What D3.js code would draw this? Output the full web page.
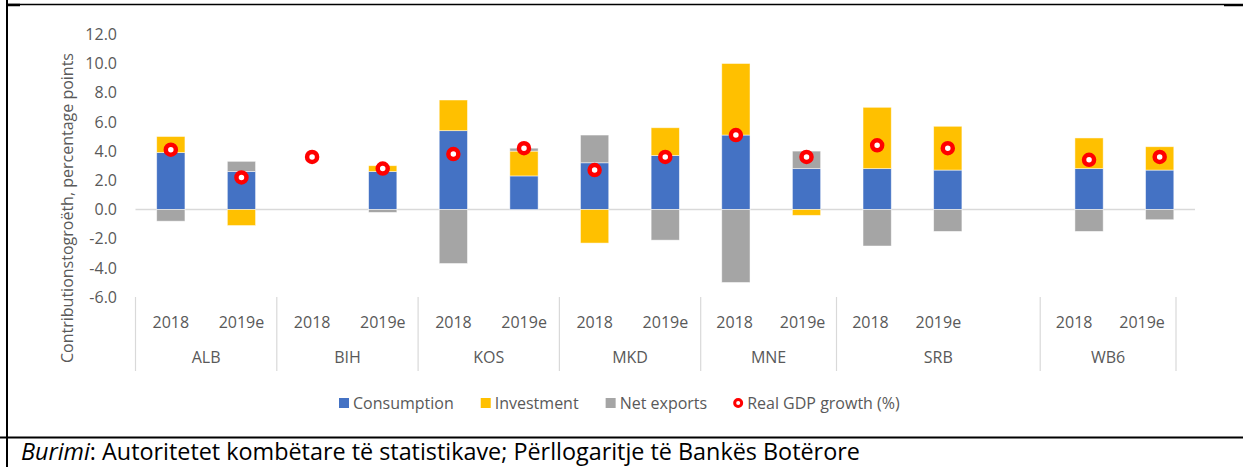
<!DOCTYPE html>
<html>
<head>
<meta charset="utf-8">
<script src="https://cdn.jsdelivr.net/npm/d3@7"></script>
<style>
  body { margin: 0; background: #fff; }
  svg { display: block; font-family: "Open Sans", sans-serif; }
</style>
</head>
<body>
<svg width="1243" height="467"></svg>
<script>
const svg = d3.select("svg");
const width = +svg.attr("width");
const height = +svg.attr("height");

// data, one entry per category slot (SRB has an empty third slot)
const countries = ["ALB", "ALB", "BIH", "BIH", "KOS", "KOS", "MKD", "MKD", "MNE", "MNE", "SRB", "SRB", "SRB", "WB6", "WB6"];
const years = ["2018", "2019e", "2018", "2019e", "2018", "2019e", "2018", "2019e", "2018", "2019e", "2018", "2019e", "", "2018", "2019e"];
const consumption = [3.9, 2.6, null, 2.6, 5.4, 2.3, 3.2, 3.7, 5.1, 2.8, 2.8, 2.7, null, 2.8, 2.7];
const investment = [1.1, -1.1, null, 0.4, 2.1, 1.7, -2.3, 1.9, 4.9, -0.4, 4.2, 3.0, null, 2.1, 1.6];
const netExports = [-0.8, 0.7, null, -0.2, -3.7, 0.2, 1.9, -2.1, -5.0, 1.2, -2.5, -1.5, null, -1.5, -0.7];
const gdpGrowth = [4.1, 2.2, 3.6, 2.8, 3.8, 4.2, 2.7, 3.6, 5.1, 3.6, 4.4, 4.2, null, 3.4, 3.6];

const yTicks = [-6, -4, -2, 0, 2, 4, 6, 8, 10, 12];
const seriesNames = ["Consumption", "Investment", "Net exports"];
const seriesColors = ["#4472C4", "#FFC000", "#A5A5A5"];
const lineName = "Real GDP growth (%)";
const yTitle = "Contributionstogroëth, percentage points";

const grey = "#595959";
const lightGrey = "#D9D9D9";

const rows = countries.map((c, i) => ({
    i: i,
    Consumption: consumption[i] || 0,
    Investment: investment[i] || 0,
    "Net exports": netExports[i] || 0
}));

const x = d3.scaleBand()
    .domain(d3.range(countries.length))
    .range([135.5, 1195])
    .paddingInner(0.6)
    .paddingOuter(0.3);

// category labels in the source are squeezed after MNE
const xLabel = d3.scaleLinear()
    .domain([0, 8, countries.length])
    .range([135.5, 700.7, 1176]);

const y = d3.scaleLinear()
    .domain([-6, 12])
    .range([297.1, 34.3]);

// frame
svg.append("rect").attr("width", width).attr("height", height).attr("fill", "#fff");
svg.append("line").attr("x1", 7).attr("x2", 7).attr("y1", 0).attr("y2", height)
    .attr("stroke", "#000").attr("stroke-width", 2);
svg.append("line").attr("x1", 7).attr("x2", 1224).attr("y1", 4.5).attr("y2", 4.5)
    .attr("stroke", "#000").attr("stroke-width", 1.5);
svg.append("line").attr("x1", 1224).attr("x2", width).attr("y1", 5).attr("y2", 5)
    .attr("stroke", "#000").attr("stroke-width", 2.5);
svg.append("line").attr("x1", 7).attr("x2", 20).attr("y1", 5).attr("y2", 5)
    .attr("stroke", "#000").attr("stroke-width", 2.5);
svg.append("line").attr("x1", 0).attr("x2", width).attr("y1", 437.5).attr("y2", 437.5)
    .attr("stroke", "#000").attr("stroke-width", 2);

// y axis
const yAxis = svg.append("g")
    .attr("transform", "translate(120,0)")
    .call(d3.axisLeft(y).tickValues(yTicks).tickSize(0).tickPadding(3).tickFormat(d => d.toFixed(1)));
yAxis.select(".domain").remove();
yAxis.selectAll("text")
    .attr("fill", grey)
    .style("font-size", "16px")
    .style("font-family", "'Open Sans', sans-serif");

svg.append("text")
    .attr("transform", `translate(67,${(44 + 372) / 2}) rotate(-90)`)
    .attr("text-anchor", "middle")
    .attr("dominant-baseline", "central")
    .attr("fill", grey)
    .style("font-size", "16px")
    .text(yTitle);

// zero line
svg.append("line")
    .attr("x1", x.range()[0]).attr("x2", x.range()[1])
    .attr("y1", y(0)).attr("y2", y(0))
    .attr("stroke", lightGrey).attr("stroke-width", 1.5);

// stacked bars
const stack = d3.stack().keys(seriesNames).offset(d3.stackOffsetDiverging);
const stacked = stack(rows);

svg.append("g")
    .selectAll("g")
    .data(stacked)
    .join("g")
    .attr("fill", (d, i) => seriesColors[i])
    .selectAll("rect")
    .data(d => d.filter(p => p[1] !== p[0]))
    .join("rect")
    .attr("x", d => x(d.data.i))
    .attr("width", x.bandwidth())
    .attr("y", d => y(Math.max(d[0], d[1])))
    .attr("height", d => Math.abs(y(d[0]) - y(d[1])))
    .attr("stroke", "#fff")
    .attr("stroke-opacity", 0.6)
    .attr("stroke-width", 0.8);

// GDP growth markers
svg.append("g")
    .selectAll("circle")
    .data(gdpGrowth.map((v, i) => ({ i: i, v: v })).filter(d => d.v !== null))
    .join("circle")
    .attr("cx", d => x(d.i) + x.bandwidth() / 2)
    .attr("cy", d => y(d.v))
    .attr("r", 5)
    .attr("fill", "#fff")
    .attr("stroke", "#FF0000")
    .attr("stroke-width", 4.5);

// category axis: years, countries, separators
const catAxis = svg.append("g");
catAxis.selectAll(".year")
    .data(years.map((t, i) => ({ t: t, i: i })).filter(d => d.t))
    .join("text")
    .attr("class", "year")
    .attr("x", d => xLabel(d.i + 0.5))
    .attr("y", 322)
    .attr("text-anchor", "middle")
    .attr("dominant-baseline", "central")
    .attr("fill", grey)
    .style("font-size", "16px")
    .text(d => d.t);

const groups = [];
countries.forEach((c, i) => {
    if (!groups.length || groups[groups.length - 1].name !== c) groups.push({ name: c, start: i, end: i + 1 });
    else groups[groups.length - 1].end = i + 1;
});

catAxis.selectAll(".group")
    .data(groups)
    .join("text")
    .attr("class", "group")
    .attr("x", d => (xLabel(d.start) + xLabel(d.end)) / 2)
    .attr("y", 357)
    .attr("text-anchor", "middle")
    .attr("dominant-baseline", "central")
    .attr("fill", grey)
    .style("font-size", "16px")
    .text(d => d.name);

const bounds = [0].concat(groups.map(g => g.end));
catAxis.selectAll(".sep")
    .data(bounds)
    .join("line")
    .attr("x1", d => xLabel(d)).attr("x2", d => xLabel(d))
    .attr("y1", 297).attr("y2", 371)
    .attr("stroke", lightGrey).attr("stroke-width", 1.2);

// legend
const legend = svg.append("g").attr("transform", "translate(339,403)");
let lx = 0;
const legendItems = seriesNames.map((n, i) => ({ name: n, color: seriesColors[i], type: "rect" }))
    .concat([{ name: lineName, color: "#FF0000", type: "circle" }]);
legendItems.forEach(item => {
    const g = legend.append("g").attr("transform", `translate(${lx},0)`);
    if (item.type === "rect") {
        g.append("rect").attr("x", 0).attr("y", -5).attr("width", 10).attr("height", 10).attr("fill", item.color);
    } else {
        g.append("circle").attr("cx", 4).attr("cy", 0).attr("r", 3.5)
            .attr("fill", "#fff").attr("stroke", item.color).attr("stroke-width", 3);
    }
    const t = g.append("text")
        .attr("x", item.type === "rect" ? 14 : 13)
        .attr("y", 0)
        .attr("dominant-baseline", "central")
        .attr("fill", grey)
        .style("font-size", "16px")
        .text(item.name);
    lx += (item.type === "rect" ? 14 : 13) + t.node().getComputedTextLength() + 27;
});

// source note
const note = svg.append("text")
    .attr("x", 21)
    .attr("y", 460)
    .attr("fill", "#000")
    .style("font-size", "20px");
note.append("tspan").style("font-style", "italic").text("Burimi");
note.append("tspan").text(": Autoritetet kombëtare të statistikave; Përllogaritje të Bankës Botërore");
const noteW = note.node().getComputedTextLength();
note.style("font-size", (20 * 839 / noteW) + "px");
</script>
</body>
</html>
